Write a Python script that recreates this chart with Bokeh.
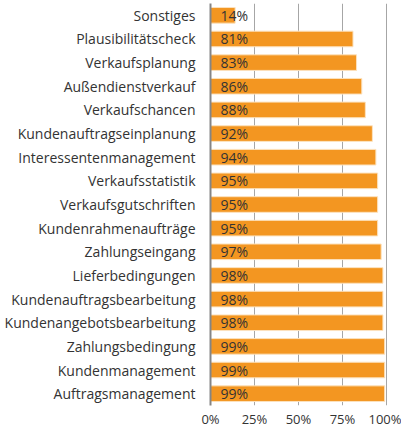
from bokeh.plotting import figure
from bokeh.models import FactorRange, Range1d, FixedTicker, ColumnDataSource
from bokeh.core.properties import value
from bokeh.embed import file_html
from bokeh.resources import INLINE

categories = ["Sonstiges", "Plausibilitätscheck", "Verkaufsplanung", "Außendienstverkauf",
              "Verkaufschancen", "Kundenauftragseinplanung", "Interessentenmanagement",
              "Verkaufsstatistik", "Verkaufsgutschriften", "Kundenrahmenaufträge",
              "Zahlungseingang", "Lieferbedingungen", "Kundenauftragsbearbeitung",
              "Kundenangebotsbearbeitung", "Zahlungsbedingung", "Kundenmanagement",
              "Auftragsmanagement"]
values = [14, 81, 83, 86, 88, 92, 94, 95, 95, 95, 97, 98, 98, 98, 99, 99, 99]
tick_values = [0, 25, 50, 75, 100]
tick_labels = ["0%", "25%", "50%", "75%", "100%"]

FONT = "Open Sans"

src = ColumnDataSource(dict(cat=categories, val=values, zero=[0] * len(values),
                            lab=[f"{v}%" for v in values]))

p = figure(frame_width=177, frame_height=402, output_backend="svg", toolbar_location=None,
           y_range=FactorRange(factors=categories[::-1], range_padding=0),
           x_range=Range1d(0, 100.6),
           min_border_left=210, min_border_right=14, min_border_top=3, min_border_bottom=22)
p.outline_line_color = None
p.background_fill_color = "white"

p.hbar(y="cat", left=0, right="val", height=0.66, source=src,
       fill_color="#F39621", line_color="#FCE2BE", line_width=1)

p.text(x="zero", y="cat", text="lab", source=src, x_offset=10,
       text_baseline="middle", text_align="left", text_color="#333333",
       text_font=value(FONT), text_font_size="14px")

p.ygrid.grid_line_color = None
p.xgrid.grid_line_color = "#a6a6a6"
p.xgrid.grid_line_width = 1
p.xaxis.ticker = FixedTicker(ticks=tick_values)
p.xaxis.major_label_overrides = {v: l for v, l in zip(tick_values, tick_labels)}
p.xaxis.axis_line_color = None
p.xaxis.major_tick_line_color = None
p.xaxis.minor_tick_line_color = None
p.xaxis.major_tick_out = 0
p.xaxis.major_tick_in = 0
p.xaxis.major_label_standoff = 4
p.xaxis.major_label_text_font = FONT
p.xaxis.major_label_text_font_size = "13px"
p.xaxis.major_label_text_color = "#333333"

p.yaxis.axis_line_color = "#858585"
p.yaxis.axis_line_width = 2
p.yaxis.major_tick_line_color = None
p.yaxis.minor_tick_line_color = None
p.yaxis.major_tick_out = 0
p.yaxis.major_tick_in = 0
p.yaxis.major_label_standoff = 15
p.yaxis.major_label_text_font = FONT
p.yaxis.major_label_text_font_size = "14px"
p.yaxis.major_label_text_color = "#333333"

open("out.html", "w").write(file_html(p, INLINE))
